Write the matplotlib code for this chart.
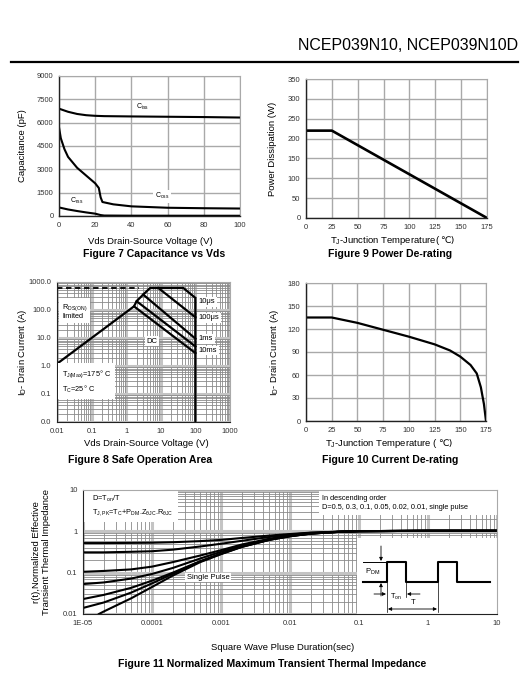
import numpy as np
import matplotlib
matplotlib.use('Agg')
import matplotlib.pyplot as plt
from matplotlib.lines import Line2D
from matplotlib.patches import Rectangle
from matplotlib.ticker import FixedLocator, FixedFormatter, LogLocator, NullFormatter

plt.rcParams['font.family'] = ['Liberation Sans', 'DejaVu Sans']
plt.rcParams['mathtext.default'] = 'regular'

W, H = 528, 679

# Figure 7: capacitance vs Vds
vds_ciss = [0, 5, 10, 15, 20, 25, 40, 60, 80, 100]
ciss = [6900, 6700, 6560, 6480, 6440, 6420, 6400, 6380, 6360, 6330]
vds_coss = [0, 1, 3, 5, 10, 15, 20, 22, 23, 24, 30, 40, 60, 80, 100]
coss = [5700, 5000, 4300, 3800, 3100, 2600, 2100, 1800, 1200, 900, 750, 620, 530, 500, 480]
vds_crss = [0, 5, 10, 15, 20, 23, 25, 40, 100]
crss = [550, 420, 320, 230, 150, 60, 30, 20, 15]

# Figure 9: power de-rating
tj_pd = [0, 25, 175]
pd = [220, 220, 0]

# Figure 8: safe operating area
soa_dc_v = [0.01, 1.68, 100]
soa_dc_i = [1.2, 135, 2.9]
soa_rds_v = [1.68, 2.0, 3.1, 4.9, 45, 100, 100]
soa_rds_i = [135, 206, 355, 610, 610, 270, 0.01]
soa_100us_v = [8.5, 100]
soa_100us_i = [610, 55]
soa_1ms_v = [3.1, 100]
soa_1ms_i = [355, 9.5]
soa_10ms_v = [2.0, 100]
soa_10ms_i = [206, 5.0]
idm_v = [0.01, 2.4]
idm_i = [610, 610]

# Figure 10: current de-rating
tj_id = [0, 25, 50, 75, 100, 125, 140, 150, 160, 166, 170, 173, 175]
id_a = [135, 135, 128, 119, 110, 100, 92, 84, 73, 62, 44, 22, 0]

# Figure 11: transient thermal impedance
t_pulse = [1e-5, 2e-5, 5e-5, 1e-4, 2e-4, 5e-4, 1e-3, 2e-3, 5e-3, 1e-2, 2e-2, 5e-2, 0.1, 1, 10]
r_d050 = [0.52, 0.52, 0.525, 0.53, 0.545, 0.58, 0.62, 0.69, 0.79, 0.86, 0.93, 0.98, 1.01, 1.03, 1.03]
r_d030 = [0.31, 0.31, 0.32, 0.33, 0.36, 0.43, 0.50, 0.59, 0.73, 0.83, 0.92, 0.98, 1.01, 1.03, 1.03]
r_d010 = [0.105, 0.11, 0.12, 0.14, 0.18, 0.26, 0.35, 0.48, 0.66, 0.79, 0.90, 0.97, 1.01, 1.03, 1.03]
r_d005 = [0.053, 0.058, 0.072, 0.093, 0.13, 0.22, 0.32, 0.45, 0.64, 0.78, 0.89, 0.97, 1.01, 1.03, 1.03]
r_d002 = [0.023, 0.029, 0.043, 0.064, 0.10, 0.19, 0.29, 0.43, 0.63, 0.77, 0.88, 0.97, 1.01, 1.03, 1.03]
r_d001 = [0.014, 0.019, 0.033, 0.055, 0.094, 0.185, 0.285, 0.42, 0.62, 0.76, 0.88, 0.97, 1.01, 1.03, 1.03]
t_single = [1.7e-5, 2e-5, 5e-5, 1e-4, 2e-4, 5e-4, 1e-3, 2e-3, 5e-3, 1e-2, 2e-2, 5e-2, 0.1, 1, 10]
r_single = [0.01, 0.0115, 0.024, 0.045, 0.085, 0.18, 0.28, 0.42, 0.62, 0.76, 0.88, 0.97, 1.01, 1.03, 1.03]

GRID = '#a9a9a9'
TICK = '#333333'


def ax_at(fig, l, t, r, b):
    return fig.add_axes([l / W, 1 - b / H, (r - l) / W, (b - t) / H])


def ftext(fig, x, y, s, **kw):
    return fig.text(x / W, 1 - y / H, s, **kw)


def temp_label(fig, xc, y, head, tail, **kw):
    # mathtext part + plain part (the plain part can fall back to DejaVu for the Celsius sign)
    renderer = fig.canvas.get_renderer()
    t1 = ftext(fig, 0, y, head, ha='left', va='baseline', **kw)
    t2 = ftext(fig, 0, y, tail, ha='left', va='baseline',
               family=['DejaVu Sans'], **kw)
    w1 = t1.get_window_extent(renderer).width
    w2 = t2.get_window_extent(renderer).width
    x0 = xc - (w1 + w2) / 2
    t1.set_x(x0 / W)
    t2.set_x((x0 + w1) / W)


def lin_style(ax):
    ax.grid(True, color=GRID, lw=1.0)
    ax.set_axisbelow(True)
    ax.tick_params(labelsize=5.5, length=0, pad=4, labelcolor=TICK)
    for s in ['top', 'right']:
        ax.spines[s].set_color(GRID)
    for s in ['left', 'bottom']:
        ax.spines[s].set_color('#222222')
        ax.spines[s].set_linewidth(1.0)


def log_style(ax):
    ax.grid(True, which='major', color='#c4c4c4', lw=2.2)
    ax.grid(True, which='minor', color='#8a8a8a', lw=0.6)
    ax.set_axisbelow(True)
    ax.tick_params(which='both', labelsize=5.5, length=0, pad=4, labelcolor=TICK)
    for s in ['top', 'right']:
        ax.spines[s].set_color(GRID)
    for s in ['left', 'bottom']:
        ax.spines[s].set_color('#222222')


fig = plt.figure(figsize=(W / 100, H / 100), dpi=100)

# header
ftext(fig, 518, 46, 'NCEP039N10, NCEP039N10D', ha='right', va='center', fontsize=11.5)
fig.add_artist(Line2D([11 / W, 518 / W], [1 - 62 / H] * 2, lw=1.6, color='k'))

lbl = dict(fontsize=6.8)
cap = dict(fontsize=7.6, fontweight='bold')
wbox = dict(facecolor='white', edgecolor='none', pad=1.0)

# ---- Figure 7
ax7 = ax_at(fig, 59, 76, 240, 216)
ax7.plot(vds_ciss, ciss, color='k', lw=1.5)
ax7.plot(vds_coss, coss, color='k', lw=1.5)
ax7.plot(vds_crss, crss, color='k', lw=1.5)
ax7.set_xlim(0, 100)
ax7.set_ylim(0, 9000)
ax7.set_xticks(range(0, 101, 20))
ax7.set_yticks(range(0, 9001, 1500))
lin_style(ax7)
ax7.text(46, 7000, 'C$_{iss}$', fontsize=5, ha='center', va='center', bbox=wbox)
ax7.text(57, 1280, 'C$_{oss}$', fontsize=5, ha='center', va='center', bbox=wbox)
ax7.text(10, 950, 'C$_{rss}$', fontsize=5, ha='center', va='center', bbox=wbox)
ax7.set_ylabel('Capacitance (pF)', **lbl)
ax7.yaxis.set_label_coords((27 - 59) / 181, 0.5)
ftext(fig, 150, 241, 'Vds Drain-Source Voltage (V)', ha='center', va='center', **lbl)
ftext(fig, 154, 254, 'Figure 7 Capacitance vs Vds', ha='center', va='center', **cap)

# ---- Figure 9
ax9 = ax_at(fig, 306, 79, 487, 218)
ax9.plot(tj_pd, pd, color='k', lw=1.9)
ax9.set_xlim(0, 175)
ax9.set_ylim(0, 350)
ax9.set_xticks(range(0, 176, 25))
ax9.set_yticks(range(0, 351, 50))
lin_style(ax9)
ax9.set_ylabel('Power Dissipation (W)', **lbl)
ax9.yaxis.set_label_coords((277 - 306) / 181, 0.5)
temp_label(fig, 392, 243, 'T$_J$-Junction Temperature(', '\u2103)', **lbl)
ftext(fig, 390, 254, 'Figure 9 Power De-rating', ha='center', va='center', **cap)

# ---- Figure 8
ax8 = ax_at(fig, 57, 282, 230, 422)
ax8.set_xscale('log')
ax8.set_yscale('log')
for v, i in [(soa_dc_v, soa_dc_i), (soa_rds_v, soa_rds_i), (soa_100us_v, soa_100us_i),
             (soa_1ms_v, soa_1ms_i), (soa_10ms_v, soa_10ms_i)]:
    ax8.plot(v, i, color='k', lw=1.6, solid_joinstyle='miter')
ax8.plot(idm_v, idm_i, color='k', lw=1.3, ls=(0, (3, 2)))
ax8.set_xlim(0.01, 1000)
ax8.set_ylim(0.01, 1000)
ax8.xaxis.set_major_locator(FixedLocator([0.01, 0.1, 1, 10, 100, 1000]))
ax8.xaxis.set_major_formatter(FixedFormatter(['0.01', '0.1', '1', '10', '100', '1000']))
ax8.yaxis.set_major_locator(FixedLocator([0.01, 0.1, 1, 10, 100, 1000]))
ax8.yaxis.set_major_formatter(FixedFormatter(['0.0', '0.1', '1.0', '10.0', '100.0', '1000.0']))
for a in (ax8.xaxis, ax8.yaxis):
    a.set_minor_locator(LogLocator(base=10, subs=np.arange(2, 10)))
    a.set_minor_formatter(NullFormatter())
log_style(ax8)
ax8.text(0.014, 88, 'R$_{DS(ON)}$\nlimited', fontsize=5.3, va='center', ha='left',
         linespacing=1.0, bbox=dict(facecolor='white', edgecolor='none', pad=2))
ax8.text(0.014, 0.28, 'T$_{J(Max)}$=175\u00b0 C\nT$_C$=25\u00b0 C', fontsize=5.3,
         va='center', ha='left', linespacing=1.5, bbox=dict(facecolor='white', edgecolor='none', pad=3))
ax8.text(5.5, 7.8, 'DC', fontsize=5.5, ha='center', va='center', bbox=wbox)
for lab, yv in [('10\u03bcs', 195), ('100\u03bcs', 53), ('1ms', 9.3), ('10ms', 3.6)]:
    ax8.text(125, yv, lab, fontsize=5.5, ha='left', va='center', bbox=wbox)
ax8.set_ylabel('I$_D$- Drain Current (A)', **lbl)
ax8.yaxis.set_label_coords((29 - 57) / 173, 0.5)
ftext(fig, 146, 443, 'Vds Drain-Source Voltage (V)', ha='center', va='center', **lbl)
ftext(fig, 140, 460, 'Figure 8 Safe Operation Area', ha='center', va='center', **cap)

# ---- Figure 10
ax10 = ax_at(fig, 306, 283, 486, 421)
ax10.plot(tj_id, id_a, color='k', lw=1.6)
ax10.set_xlim(0, 175)
ax10.set_ylim(0, 180)
ax10.set_xticks(range(0, 176, 25))
ax10.set_yticks(range(0, 181, 30))
lin_style(ax10)
ax10.set_ylabel('I$_D$- Drain Current (A)', **lbl)
ax10.yaxis.set_label_coords((281 - 306) / 180, 0.5)
temp_label(fig, 389, 446, 'T$_J$-Junction Temperature (', '\u2103)', **lbl)
ftext(fig, 390, 460, 'Figure 10 Current De-rating', ha='center', va='center', **cap)

# ---- Figure 11
ax11 = ax_at(fig, 83, 490, 497, 614)
ax11.set_xscale('log')
ax11.set_yscale('log')
for r in [r_d050, r_d030, r_d010, r_d005, r_d002, r_d001]:
    ax11.plot(t_pulse, r, color='k', lw=1.5)
ax11.plot(t_single, r_single, color='k', lw=1.5)
ax11.set_xlim(1e-5, 10)
ax11.set_ylim(0.01, 10)
ax11.xaxis.set_major_locator(FixedLocator([1e-5, 1e-4, 1e-3, 1e-2, 0.1, 1, 10]))
ax11.xaxis.set_major_formatter(FixedFormatter(['1E-05', '0.0001', '0.001', '0.01', '0.1', '1', '10']))
ax11.yaxis.set_major_locator(FixedLocator([0.01, 0.1, 1, 10]))
ax11.yaxis.set_major_formatter(FixedFormatter(['0.01', '0.1', '1', '10']))
for a in (ax11.xaxis, ax11.yaxis):
    a.set_minor_locator(LogLocator(base=10, subs=np.arange(2, 10)))
    a.set_minor_formatter(NullFormatter())
log_style(ax11)
ax11.add_patch(Rectangle((0.662, 0.0), 0.338, 0.61, transform=ax11.transAxes,
                         facecolor='white', edgecolor='none', zorder=1.5))
ax11.add_patch(Rectangle((0.0, 0.74), 0.23, 0.26, transform=ax11.transAxes,
                         facecolor='white', edgecolor='none', zorder=1.5))
ax11.add_patch(Rectangle((0.57, 0.80), 0.43, 0.20, transform=ax11.transAxes,
                         facecolor='white', edgecolor='none', zorder=1.5))
ax11.text(0.022, 0.87, 'D=T$_{on}$/T\nT$_{J,PK}$=T$_C$+P$_{DM}$.Z$_{\\theta JC}$.R$_{\\theta JC}$',
          transform=ax11.transAxes, fontsize=5.3, va='center', ha='left', linespacing=1.4, zorder=3)
ax11.text(0.578, 0.895, 'In descending order\nD=0.5, 0.3, 0.1, 0.05, 0.02, 0.01, single pulse',
          transform=ax11.transAxes, fontsize=5.3, va='center', ha='left', linespacing=1.4, zorder=3)
ax11.text(6.5e-4, 0.076, 'Single Pulse', fontsize=5.5, ha='center', va='center', bbox=wbox, zorder=3)
ax11.set_ylabel('r(t),Normalized Effective\nTransient Thermal Impedance', fontsize=6.8, linespacing=1.1)
ax11.yaxis.set_label_coords((51 - 83) / 414, 0.5)
ftext(fig, 283, 647, 'Square Wave Pluse Duration(sec)', ha='center', va='center', **lbl)
ftext(fig, 272, 664, 'Figure 11 Normalized Maximum Transient Thermal Impedance', ha='center',
      va='center', **cap)

# pulse sketch inside Figure 11 (local pixel frame)
axp = ax_at(fig, 357, 538, 497, 613)
axp.set_facecolor('none')
axp.set_xlim(357, 497)
axp.set_ylim(613, 538)
axp.set_xticks([])
axp.set_yticks([])
for s in axp.spines.values():
    s.set_visible(False)
axp.plot([363, 387, 387, 406, 406, 438, 438, 457, 457, 490],
         [582, 582, 562, 562, 582, 582, 562, 562, 582, 582], color='k', lw=1.5)
axp.plot([363, 387], [562, 562], color='k', lw=0.7)
for xv, y0, y1 in [(387, 582, 612), (406, 582, 597), (438, 582, 612)]:
    axp.plot([xv, xv], [y0, y1], color='k', lw=0.5)
arr = dict(arrowstyle='-|>', color='k', lw=0.6, mutation_scale=5, shrinkA=0, shrinkB=0)
axp.annotate('', xy=(381, 561), xytext=(381, 546), arrowprops=arr)
axp.annotate('', xy=(381, 583), xytext=(381, 596), arrowprops=arr)
axp.annotate('', xy=(386, 594), xytext=(374, 594), arrowprops=arr)
axp.annotate('', xy=(407, 594), xytext=(420, 594), arrowprops=arr)
axp.annotate('', xy=(437, 609), xytext=(388, 609),
             arrowprops=dict(arrowstyle='<|-|>', color='k', lw=0.6, mutation_scale=5, shrinkA=0, shrinkB=0))
axp.text(373, 572, 'P$_{DM}$', fontsize=5.5, ha='center', va='center')
axp.text(396, 597, 'T$_{on}$', fontsize=5.3, ha='center', va='center')
axp.text(413, 603, 'T', fontsize=5.5, ha='center', va='center')

fig.savefig('out.png', dpi=100)
